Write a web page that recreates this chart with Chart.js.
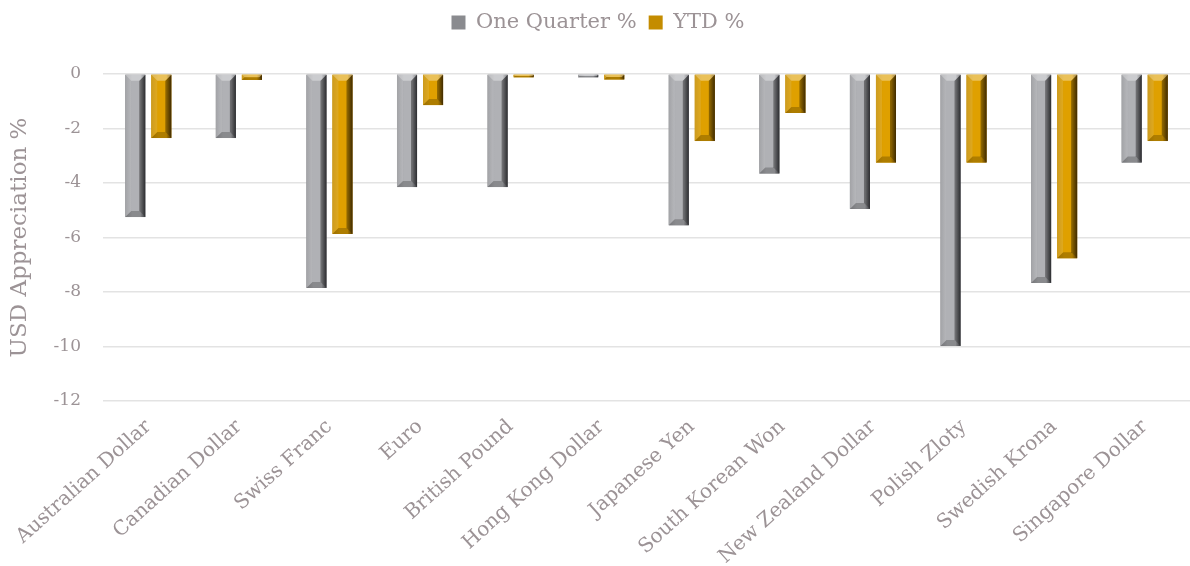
<!DOCTYPE html>
<html>
<head>
<meta charset="utf-8">
<script src="https://cdn.jsdelivr.net/npm/chart.js@4"></script>
<style>
  html, body { margin: 0; padding: 0; background: #fff; }
  #wrap { width: 1190px; height: 566px; }
</style>
</head>
<body>
<div id="wrap"><canvas id="fx" width="1190" height="566"></canvas></div>
<script>
const currencies = ["Australian Dollar", "Canadian Dollar", "Swiss Franc", "Euro", "British Pound",
  "Hong Kong Dollar", "Japanese Yen", "South Korean Won", "New Zealand Dollar", "Polish Zloty",
  "Swedish Krona", "Singapore Dollar"];
const oneQuarter = [-5.25, -2.35, -7.85, -4.15, -4.15, -0.12, -5.55, -3.65, -4.95, -9.98, -7.67, -3.25];
const ytd = [-2.35, -0.22, -5.87, -1.14, -0.12, -0.2, -2.46, -1.43, -3.25, -3.25, -6.76, -2.46];
const yTicks = [0, -2, -4, -6, -8, -10, -12];

const textColor = "#9c9396";
const serif = "'DejaVu Serif', 'Liberation Serif', serif";

// per-series shading: left edge, middle, right edge
const shades = {
  gray: ["#96979b", "#b0b1b5", "#48494e"],
  gold: ["#c68e00", "#dfa000", "#684600"]
};

// paints each bar as a bevelled block using the bar element geometry
const bevelBars = {
  id: "bevelBars",
  afterDatasetsDraw(chart) {
    const ctx = chart.ctx;
    chart.data.datasets.forEach((ds, di) => {
      const meta = chart.getDatasetMeta(di);
      const sh = shades[ds.shade];
      meta.data.forEach(el => {
        const x0 = el.x - el.width / 2, x1 = el.x + el.width / 2;
        const top = Math.min(el.y, el.base), bot = Math.max(el.y, el.base);
        const h = bot - top;
        if (h <= 0) return;
        const d = Math.min(6, h / 2, el.width / 2);
        ctx.save();
        const g = ctx.createLinearGradient(x0, 0, x1, 0);
        g.addColorStop(0, sh[0]);
        g.addColorStop(0.35, sh[1]);
        g.addColorStop(0.75, sh[1]);
        g.addColorStop(1, sh[2]);
        ctx.fillStyle = g;
        ctx.fillRect(x0, top, x1 - x0, h);
        const poly = (pts, fill) => {
          ctx.beginPath();
          ctx.moveTo(pts[0][0], pts[0][1]);
          for (let i = 1; i < pts.length; i++) ctx.lineTo(pts[i][0], pts[i][1]);
          ctx.closePath();
          ctx.fillStyle = fill;
          ctx.fill();
        };
        poly([[x0, top], [x0 + d, top + d], [x0 + d, bot - d], [x0, bot]], "rgba(255,255,255,0.12)");
        poly([[x1, top], [x1 - d, top + d], [x1 - d, bot - d], [x1, bot]], "rgba(0,0,0,0.38)");
        poly([[x0, top], [x1, top], [x1 - d, top + d], [x0 + d, top + d]], "rgba(255,255,255,0.35)");
        poly([[x0, bot], [x1, bot], [x1 - d, bot - d], [x0 + d, bot - d]], "rgba(0,0,0,0.22)");
        ctx.restore();
      });
    });
  }
};

// reserve a fixed band for the legend above the plot
const legendBand = {
  id: "legendBand",
  afterInit(chart) {
    const legend = chart.legend;
    if (!legend) return;
    const fit = legend.fit;
    legend.fit = function () {
      fit.call(this);
      this.height = 74;
    };
  }
};

new Chart(document.getElementById("fx"), {
  type: "bar",
  data: {
    labels: currencies,
    datasets: [
      { label: "One Quarter %", data: oneQuarter, shade: "gray", backgroundColor: "#8a8b8f", borderWidth: 0 },
      { label: "YTD %", data: ytd, shade: "gold", backgroundColor: "#c48c00", borderWidth: 0 }
    ]
  },
  plugins: [bevelBars, legendBand],
  options: {
    responsive: false,
    animation: false,
    layout: { padding: { top: 0, right: 0, left: 6, bottom: 0 } },
    datasets: { bar: { categoryPercentage: 0.575, barPercentage: 0.77 } },
    plugins: {
      tooltip: { enabled: false },
      legend: {
        position: "top",
        labels: {
          color: textColor,
          font: { family: serif, size: 21 },
          boxWidth: 14,
          boxHeight: 14,
          padding: 12
        }
      }
    },
    scales: {
      x: {
        grid: { display: false },
        border: { display: false },
        afterFit(axis) { axis.height = 165; },
        ticks: {
          color: textColor,
          font: { family: serif, size: 20 },
          minRotation: 42,
          maxRotation: 42,
          autoSkip: false,
          padding: 6
        }
      },
      y: {
        min: -12,
        max: 0,
        afterBuildTicks(axis) { axis.ticks = yTicks.map(v => ({ value: v })); },
        afterFit(axis) { axis.width = 97; },
        grid: { color: "#e3e3e3", lineWidth: 1.5, drawTicks: false },
        border: { display: false },
        ticks: {
          color: textColor,
          font: { family: serif, size: 17 },
          padding: 22
        },
        title: {
          display: true,
          text: "USD Appreciation %",
          color: textColor,
          font: { family: serif, size: 23 },
          padding: { top: 0, bottom: 6 }
        }
      }
    }
  }
});
</script>
</body>
</html>
